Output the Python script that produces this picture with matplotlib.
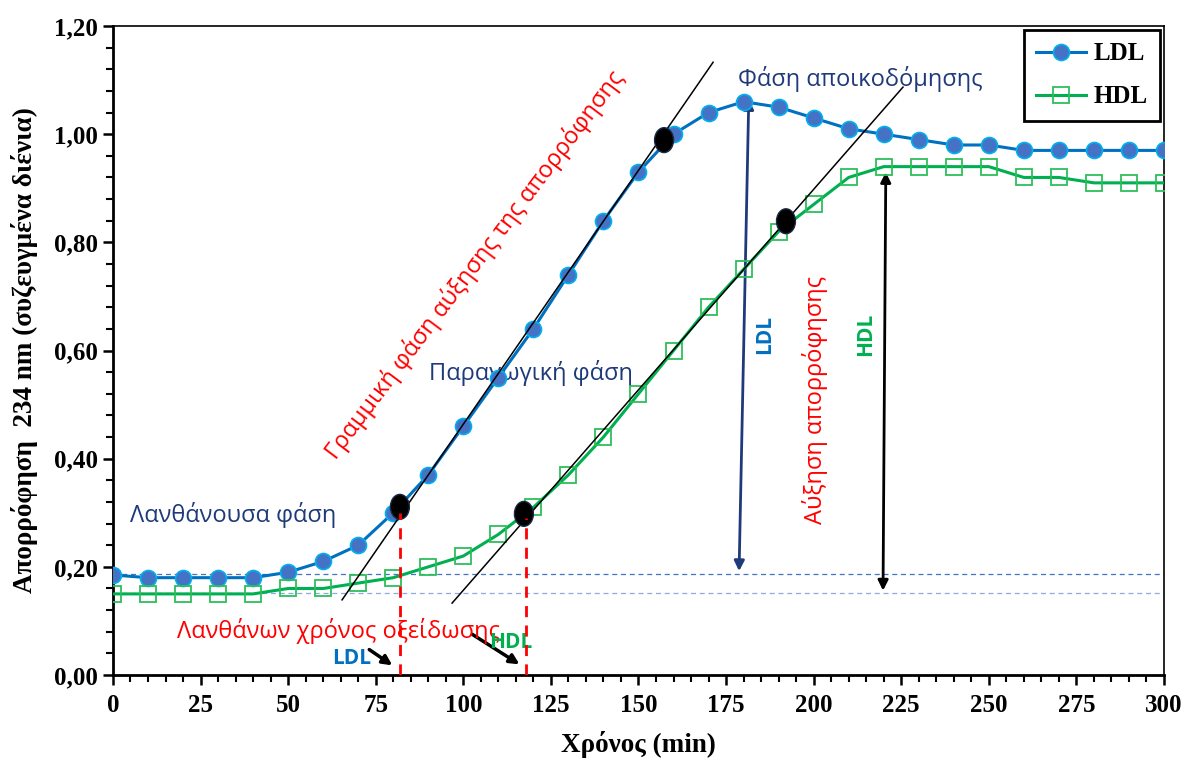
import matplotlib.pyplot as plt
from matplotlib.ticker import MultipleLocator, FuncFormatter
from matplotlib.patches import Ellipse

# Δεδομένα
time_min = [0, 10, 20, 30, 40, 50, 60, 70, 80, 90, 100, 110, 120, 130, 140, 150,
            160, 170, 180, 190, 200, 210, 220, 230, 240, 250, 260, 270, 280, 290, 300]
ldl = [0.185, 0.18, 0.18, 0.18, 0.18, 0.19, 0.21, 0.24, 0.30, 0.37, 0.46, 0.55, 0.64,
       0.74, 0.84, 0.93, 1.00, 1.04, 1.06, 1.05, 1.03, 1.01, 1.00, 0.99, 0.98, 0.98,
       0.97, 0.97, 0.97, 0.97, 0.97]
hdl = [0.15, 0.15, 0.15, 0.15, 0.15, 0.16, 0.16, 0.17, 0.18, 0.20, 0.22, 0.26, 0.31,
       0.37, 0.44, 0.52, 0.60, 0.68, 0.75, 0.82, 0.87, 0.92, 0.94, 0.94, 0.94, 0.94,
       0.92, 0.92, 0.91, 0.91, 0.91]

# εφαπτόμενες και σημεία
ldl_tangent_x = [65.4, 171.3]
ldl_tangent_y = [0.139, 1.133]
hdl_tangent_x = [96.8, 225.5]
hdl_tangent_y = [0.133, 1.087]
dots_x = [81.9, 157.3, 117.3, 192.1]
dots_y = [0.311, 0.989, 0.298, 0.839]
lag_ldl, lag_hdl = 82, 118
base_ldl, base_hdl = 0.187, 0.151

serif = 'Liberation Serif'
sans = 'Open Sans'
navy = '#1F3A7A'
fs = 17

fig = plt.figure(figsize=(11.84, 7.65), dpi=100)
ax = fig.add_axes([0.0954, 0.1176, 0.8877, 0.8484])

ax.plot(time_min, ldl, color='#0070C0', lw=2.2, marker='o', ms=11.5,
        markerfacecolor='#4472C4', markeredgecolor='#00B0F0', markeredgewidth=1.2,
        label='LDL', zorder=4)
ax.plot(time_min, hdl, color='#00B050', lw=2.2, marker='s', ms=11.5,
        markerfacecolor='none', markeredgecolor='#2DBE5A', markeredgewidth=1.3,
        label='HDL', zorder=4)

ax.plot(ldl_tangent_x, ldl_tangent_y, color='black', lw=1.1, zorder=5)
ax.plot(hdl_tangent_x, hdl_tangent_y, color='black', lw=1.1, zorder=5)

for x, y in zip(dots_x, dots_y):
    ax.add_patch(Ellipse((x, y), 5.4, 0.046, facecolor='black', edgecolor='#1a2a44',
                         lw=1, zorder=6))

ax.plot([lag_ldl, lag_ldl], [0, 0.30], color='red', lw=2, ls=(0, (4, 3)), zorder=7)
ax.plot([lag_hdl, lag_hdl], [0, 0.29], color='red', lw=2, ls=(0, (4, 3)), zorder=7)

ax.axhline(base_ldl, color='#4472C4', lw=0.9, ls=(0, (4, 3)), zorder=1)
ax.axhline(base_hdl, color='#8FAADC', lw=0.9, ls=(0, (4, 3)), zorder=1)

# βέλη αύξησης απορρόφησης
ax.annotate('', xy=(178.7, base_ldl), xytext=(181.5, 1.07),
            arrowprops=dict(arrowstyle='<|-|>', color=navy, lw=2, mutation_scale=15))
ax.annotate('', xy=(219.8, base_hdl), xytext=(220.6, 0.935),
            arrowprops=dict(arrowstyle='<|-|>', color='black', lw=2, mutation_scale=15))
ax.annotate('', xy=(80.4, 0.015), xytext=(72.5, 0.05),
            arrowprops=dict(arrowstyle='-|>', color='black', lw=2.5, mutation_scale=14))
ax.annotate('', xy=(116.7, 0.017), xytext=(101.9, 0.078),
            arrowprops=dict(arrowstyle='-|>', color='black', lw=2.5, mutation_scale=14))

# κείμενα
ax.text(34.3, 0.296, 'Λανθάνουσα φάση', color=navy, fontsize=fs, family=sans,
        ha='center', va='center')
ax.text(119.3, 0.558, 'Παραγωγική φάση', color=navy, fontsize=fs, family=sans,
        ha='center', va='center')
ax.text(213.2, 1.102, 'Φάση αποικοδόμησης', color=navy, fontsize=fs, family=sans,
        ha='center', va='center')
ax.text(103.3, 0.759, 'Γραμμική φάση αύξησης της απορρόφησης', color='red', fontsize=fs,
        family=sans, ha='center', va='center', rotation=53)
ax.text(64.5, 0.082, 'Λανθάνων χρόνος οξείδωσης', color='red', fontsize=fs, family=sans,
        ha='center', va='center')
ax.text(200.4, 0.509, 'Αύξηση απορρόφησης', color='red', fontsize=fs, family=sans,
        ha='center', va='center', rotation=90)
ax.text(186.1, 0.63, 'LDL', color='#0070C0', fontsize=15, family=sans, weight='bold',
        ha='center', va='center', rotation=90)
ax.text(214.9, 0.63, 'HDL', color='#00B050', fontsize=15, family=sans, weight='bold',
        ha='center', va='center', rotation=90)
ax.text(68.2, 0.030, 'LDL', color='#0070C0', fontsize=15, family=sans, weight='bold',
        ha='center', va='center')
ax.text(113.5, 0.060, 'HDL', color='#00B050', fontsize=15, family=sans, weight='bold',
        ha='center', va='center')

# άξονες
ax.set_xlim(0, 300)
ax.set_ylim(0, 1.2)
ax.xaxis.set_major_locator(MultipleLocator(25))
ax.xaxis.set_minor_locator(MultipleLocator(5))
ax.yaxis.set_major_locator(MultipleLocator(0.2))
ax.yaxis.set_minor_locator(MultipleLocator(0.04))
ax.yaxis.set_major_formatter(FuncFormatter(lambda v, p: f'{v:.2f}'.replace('.', ',')))
ax.tick_params(which='major', direction='out', length=7, width=1.8)
ax.tick_params(which='minor', direction='out', length=5, width=1.5)
ax.tick_params(labelsize=18)
ax.tick_params(axis='x', pad=7)
for lab in ax.get_xticklabels() + ax.get_yticklabels():
    lab.set_fontfamily(serif)
    lab.set_fontweight('bold')
ax.spines['left'].set_linewidth(2)
ax.spines['bottom'].set_linewidth(2)
ax.spines['top'].set_linewidth(1.2)
ax.spines['right'].set_linewidth(1.2)

ax.set_xlabel('Χρόνος (min)', family=serif, weight='bold', fontsize=19.5, labelpad=10)
ax.set_ylabel('Απορρόφηση  234 nm (συζευγμένα διένια)', family=serif, weight='bold',
              fontsize=19.5, labelpad=12)

leg = ax.legend(loc='upper right', prop=dict(family=serif, weight='bold', size=18),
                fancybox=False, edgecolor='black', framealpha=1, handlelength=2.0,
                borderpad=0.5, labelspacing=0.8, handletextpad=0.3,
                borderaxespad=0.15)
leg.get_frame().set_linewidth(2)

fig.savefig('out.png', dpi=100)
